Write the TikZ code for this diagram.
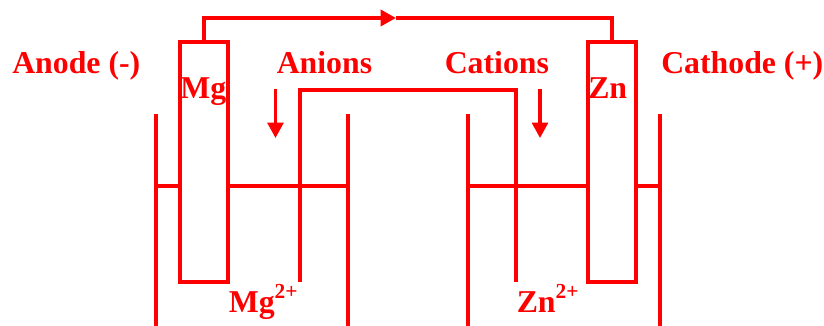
\documentclass[tikz,border=0pt]{standalone}
\usepackage{fontspec}
\setmainfont{Liberation Serif}
\usetikzlibrary{arrows.meta}
\newcommand{\ioncharge}[1]{\raisebox{10.6pt}{\fontsize{15.2}{16}\selectfont #1}}
\tikzset{
  wire/.style={draw=red, line width=2.9pt, line join=miter},
  level/.style={draw=red, line width=2.4pt},
  rod/.style={wire, minimum width=1.2cm, minimum height=6cm, inner sep=0pt, outer sep=0pt},
  lbl/.style={text=red, font=\bfseries\fontsize{22.6}{26}\selectfont, inner sep=0pt, anchor=base west},
  flow/.style={wire, -{Triangle[length=11pt, width=11.4pt]}},
  ionflow/.style={flow, line width=2.2pt}
}
\begin{document}
\begin{tikzpicture}[x=0.025cm, y=-0.025cm]
  \useasboundingbox (0,0) rectangle (824,326);
  % Electrodes
  \node[rod] (mgrod) at (204,162) {};
  \node[rod] (znrod) at (612,162) {};

  % Beaker walls
  \coordinate (lwalla) at (156,114); \coordinate (lwallb) at (156,326);
  \coordinate (lwallc) at (348,114); \coordinate (lwalld) at (348,326);
  \coordinate (rwalla) at (468,114); \coordinate (rwallb) at (468,326);
  \coordinate (rwallc) at (660,114); \coordinate (rwalld) at (660,326);
  \draw[wire] (lwalla) -- (lwallb);
  \draw[wire] (lwallc) -- (lwalld);
  \draw[wire] (rwalla) -- (rwallb);
  \draw[wire] (rwallc) -- (rwalld);

  % Liquid level
  \coordinate (lleva) at (156,186); \coordinate (llevb) at (180,186);
  \coordinate (lrevc) at (228,186); \coordinate (lrevd) at (348,186);
  \coordinate (rleva) at (468,186); \coordinate (rlevb) at (588,186);
  \coordinate (rrevc) at (636,186); \coordinate (rrevd) at (660,186);
  \draw[level] (lleva) -- (llevb);
  \draw[level] (lrevc) -- (lrevd);
  \draw[level] (rleva) -- (rlevb);
  \draw[level] (rrevc) -- (rrevd);

  % Salt bridge
  \coordinate (bridgea) at (300,282); \coordinate (bridgeb) at (516,282);
  \draw[wire] (bridgea) |- (516,90) -- (bridgeb);

  % External circuit
  \coordinate (topmid) at (396,18);
  \draw[wire] (znrod.north) |- (topmid);
  \draw[flow] (mgrod.north) |- (topmid);

  % Ion flow
  \coordinate (anionsa) at (275.5,89); \coordinate (anionsb) at (275.5,138);
  \coordinate (cationsa) at (540,89); \coordinate (cationsb) at (540,138);
  \draw[ionflow] (anionsa) -- (anionsb);
  \draw[ionflow] (cationsa) -- (cationsb);

  % Labels
  \node[lbl] (anode) at (12,73.5) {Anode (-)};
  \node[lbl] (anions) at (276.5,73.5) {Anions};
  \node[lbl] (cations) at (444.5,73.5) {Cations};
  \node[lbl] (cathode) at (661,73.5) {Cathode (+)};
  \node[lbl] (mglabel) at (180,98.5) {Mg};
  \node[lbl] (znlabel) at (588,98.5) {Zn};
  \node[lbl] (mgion) at (228.5,313) {Mg\ioncharge{2+}};
  \node[lbl] (znion) at (516.5,313) {Zn\ioncharge{2+}};
\end{tikzpicture}
\end{document}
